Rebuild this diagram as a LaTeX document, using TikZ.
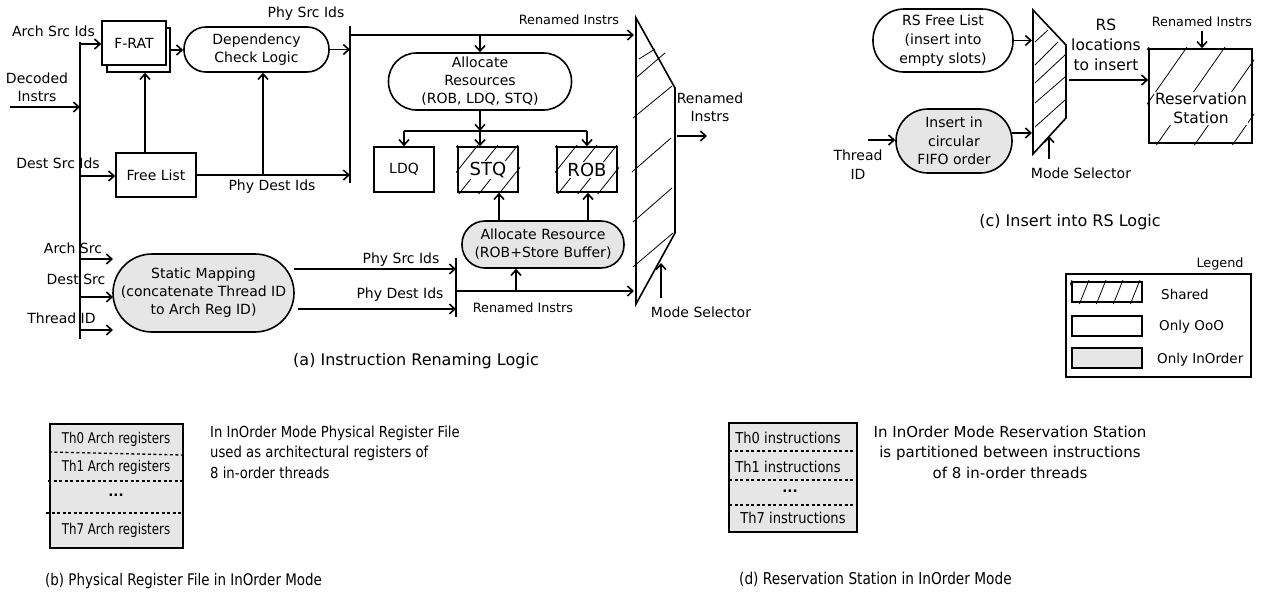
\documentclass[tikz,border=0pt]{standalone}
\usepackage{fontspec}
\setmainfont{DejaVu Sans}
\newfontfamily\cond[FakeStretch=0.87]{DejaVu Sans}
\newfontfamily\condb[FakeStretch=0.8]{DejaVu Sans}
\newfontfamily\condc[FakeStretch=0.84]{DejaVu Sans}
\usetikzlibrary{arrows.meta}
\definecolor{lg}{RGB}{230,230,230}
\newcommand\fsz[2]{\fontsize{#1}{#2}\selectfont}
\newcommand\hatchrect[6]{%
 \begin{scope}
 \clip (#1-2,#2-2) rectangle (#3+2,#4+2);
 \pgfmathsetmacro\hh{#4-#2+4}%
 \pgfmathsetmacro\ta{#1-\hh*#6}%
 \pgfmathsetmacro\tb{\ta+#5}%
 \foreach \t in {\ta,\tb,...,#3}{\draw[hl] (\t,#4+2) -- ++({\hh*#6},{-\hh});}
 \end{scope}}
\begin{document}
\begin{tikzpicture}[x=1pt,y=-1pt,
 every node/.style={font=\fsz{14}{18}, inner sep=0pt},
 box/.style={draw, line width=1.6pt, align=center},
 ingray/.style={fill=lg},
 arr/.style={line width=1.6pt, -{Straight Barb[length=5.5pt,width=10pt]}},
 ln/.style={line width=1.6pt},
 hl/.style={line width=0.8pt},
 dsh/.style={line width=1.3pt, dash pattern=on 3pt off 2.5pt},
 lbl/.style={align=center},
 small/.style={font=\fsz{12.8}{15}},
]
\useasboundingbox (0,0) rectangle (1264,592);

% ===================== (a) =====================
\coordinate (busT) at (80,42); \coordinate (busB) at (80,339);
\draw[ln] (busT) -- (busB);
\node[box, fill=white, minimum width=63pt, minimum height=44pt] (fratb) at (138.5,50) {};
\node[box, fill=white, minimum width=64pt, minimum height=44pt] (frat) at (134,43) {F-RAT};
\node[box, rounded corners=22pt, minimum width=145pt, minimum height=45pt] (dep) at (256.5,49.5) {Dependency\\Check Logic};
\node[box, minimum width=80pt, minimum height=44pt] (free) at (156,175) {Free List};

\node[lbl] (lArch) at (53.5,31) {Arch Src Ids};
\coordinate (a1) at (80,44);
\draw[arr] (a1) -- (a1 -| frat.west);
\node[lbl] (lDec) at (37,87) {Decoded\\Instrs};
\coordinate (d0) at (10,107);
\draw[arr] (d0) -- (d0 -| busT);
\node[lbl] (lDest) at (58,163) {Dest Src Ids};
\coordinate (ds) at (80,176);
\draw[arr] (ds) -- (ds -| free.west);
\coordinate (fu) at (145,153);
\draw[arr] (fu) -- (fu |- fratb.south);
\draw[arr] (fratb.east) -- (fratb.east -| dep.west);

\coordinate (bar1T) at (350,26); \coordinate (bar1B) at (350,183);
\draw[ln] (bar1T) -- (bar1B);
\draw[arr] (dep.east) -- (dep.east -| bar1T);
\draw[arr] (free.east) -- (free.east -| bar1T);
\coordinate (br1) at (263,175);
\draw[arr] (br1) -- (br1 |- dep.south);
\node (lPS) at (306,13.5) {Phy Src Ids};
\node (lPD) at (272,187) {Phy Dest Ids};

% mux (a)
\coordinate (ma1) at (636,18); \coordinate (ma2) at (675,88);
\coordinate (ma3) at (675,233); \coordinate (ma4) at (636,304);
\coordinate (muxaIn) at (634,160);
\draw[ln] (ma1) -- (ma2) -- (ma3) -- (ma4) -- cycle;
\draw[hl] (639,59) -- (655,49);
\draw[hl] (637,77) -- (665,53);
\draw[hl] (633,118) -- (672,86);
\draw[hl] (632,172) -- (671,138);
\draw[hl] (633,222) -- (672,188);
\draw[hl] (633,267) -- (673,233);

\coordinate (rt) at (350,35);
\draw[arr] (rt) -- (rt -| muxaIn);
\node[small] (lRI1) at (569,20) {Renamed Instrs};

\node[box, rounded corners=28pt, minimum width=183pt, minimum height=57pt] (alloc) at (480,81.5) {Allocate\\Resources\\(ROB, LDQ, STQ)};
\coordinate (ad) at (480,35);
\draw[arr] (ad) -- (ad |- alloc.north);

\node[box, minimum width=60pt, minimum height=45pt] (ldq) at (404,169.5) {LDQ};
\node[box, fill=white, minimum width=60pt, minimum height=45pt] (stq) at (488,169.5) {};
\hatchrect{458}{147}{518}{192}{20}{0.8}
\node[fill=white, inner sep=1pt, font=\fsz{18}{20}] (stqt) at (488,170) {STQ};
\node[box, fill=white, minimum width=60pt, minimum height=45pt] (rob) at (587,169.5) {};
\hatchrect{557}{147}{617}{192}{20}{0.8}
\node[fill=white, inner sep=1pt, font=\fsz{18}{20}] (robt) at (587,170) {ROB};

\coordinate (bj) at (480,131);
\draw[arr] (alloc.south) -- (bj);
\draw[ln] (bj -| ldq.north) -- (bj -| rob.north);
\draw[arr] (bj -| ldq.north) -- (ldq.north);
\draw[arr] (bj) -- (bj |- stq.north);
\draw[arr] (bj -| rob.north) -- (rob.north);

\coordinate (mo) at (677,136); \coordinate (moE) at (707,136);
\draw[arr] (mo) -- (moE);
\node[lbl] (lRI2) at (710,107) {Renamed\\Instrs};
\coordinate (msB) at (661,298); \coordinate (msT) at (661,263);
\draw[arr] (msB) -- (msT);
\node (lMS) at (701,312) {Mode Selector};

% lower part of (a)
\node[box, ingray, rounded corners=39pt, minimum width=181pt, minimum height=78pt] (static) at (203.5,293) {Static Mapping\\(concatenate Thread ID\\to Arch Reg ID)};
\node (lAS) at (73,248) {Arch Src};
\node (lDS) at (76,279) {Dest Src};
\node (lTI) at (61.5,318) {Thread ID};
\coordinate (s1) at (80,259); \coordinate (s1e) at (113,259);
\coordinate (s2) at (80,297); \coordinate (s2e) at (113,297);
\coordinate (s3) at (80,330); \coordinate (s3e) at (113,330);
\draw[arr] (s1) -- (s1e);
\draw[arr] (s2) -- (s2e);
\draw[arr] (s3) -- (s3e);

\coordinate (bar2T) at (456,258); \coordinate (bar2B) at (456,317);
\draw[ln] (bar2T) -- (bar2B);
\coordinate (ps0) at (294,269); \coordinate (pd0) at (298,309);
\draw[arr] (ps0) -- (ps0 -| bar2T);
\draw[arr] (pd0) -- (pd0 -| bar2T);
\node (lPS2) at (401,260) {Phy Src Ids};
\node (lPD2) at (400,295) {Phy Dest Ids};

\node[box, ingray, rounded corners=23pt, minimum width=162pt, minimum height=47pt] (allocr) at (543,244.5) {Allocate Resource\\(ROB+Store Buffer)};
\coordinate (ri0) at (456,291);
\draw[arr] (ri0) -- (ri0 -| muxaIn);
\coordinate (rb) at (516,291);
\draw[arr] (rb) -- (rb |- allocr.south);
\coordinate (u1) at (499,221); \coordinate (u2) at (588,221);
\draw[arr] (u1) -- (u1 |- stq.south);
\draw[arr] (u2) -- (u2 |- rob.south);
\node[small] (lRI3) at (523,308) {Renamed Instrs};
\node[font=\fsz{16}{18}] (capA) at (416,361) {(a) Instruction Renaming Logic};

% ===================== (c) =====================
\node[box, rounded corners=31pt, minimum width=140pt, minimum height=63pt, font=\fsz{14}{19}] (rsfl) at (943,40.5) {RS Free List\\(insert into\\empty slots)};
\node[box, ingray, rounded corners=32pt, minimum width=116pt, minimum height=64pt, font=\fsz{14}{18.5}] (ins) at (954,141) {Insert in\\circular\\FIFO order};
\coordinate (mc1) at (1033,10); \coordinate (mc2) at (1066,45);
\coordinate (mc3) at (1066,118); \coordinate (mc4) at (1033,154);
\coordinate (mcIn) at (1032,80);
\draw[ln] (mc1) -- (mc2) -- (mc3) -- (mc4) -- cycle;
\draw[hl] (1035,42) -- (1048,30);
\draw[hl] (1035,65) -- (1058,42);
\draw[hl] (1035,83) -- (1065,55);
\draw[hl] (1035,103) -- (1065,77);
\draw[hl] (1035,127) -- (1065,100);
\draw[arr] (rsfl.east) -- (rsfl.east -| mcIn);
\coordinate (in1) at (1012,133);
\draw[arr] (in1) -- (in1 -| mcIn);
\coordinate (th0) at (868,140);
\draw[arr] (th0) -- (th0 -| ins.west);
\node[lbl, font=\fsz{14}{19}] (lTh) at (858,164.5) {Thread\\ID};
\coordinate (mcsB) at (1049,159); \coordinate (mcsT) at (1049,136);
\draw[arr] (mcsB) -- (mcsT);
\node (lMS2) at (1081,173) {Mode Selector};

\node[box, fill=white, minimum width=103pt, minimum height=94pt] (rs) at (1200.5,96) {};
\hatchrect{1149}{49}{1252}{143}{38}{0.7}
\node[fill=white, inner sep=1pt, align=center, font=\fsz{15.5}{19}] (rst) at (1201,108) {Reservation\\Station};
\coordinate (mo2) at (1069,80);
\draw[arr] (mo2) -- (mo2 -| rs.west);
\node[lbl, font=\fsz{15.5}{20}] (lRS) at (1106,45) {RS\\locations\\to insert};
\node[small] (lRI4) at (1202,22) {Renamed Instrs};
\coordinate (ri4) at (1202,31);
\draw[arr] (ri4) -- (ri4 |- rs.north);
\node[font=\fsz{16}{18}] (capC) at (1070,222) {(c) Insert into RS Logic};

% legend
\node[small] (lLeg) at (1220,264) {Legend};
\node[draw, line width=1.1pt, minimum width=185pt, minimum height=103pt] (leg) at (1158.5,325.5) {};
\node[draw, line width=1.1pt, fill=white, minimum width=70pt, minimum height=20pt] (legS) at (1107,292) {};
\hatchrect{1072}{282}{1142}{302}{17}{0.4}
\node[draw, line width=1.1pt, minimum width=70pt, minimum height=20pt] (legO) at (1107,326) {};
\node[draw, line width=1.1pt, fill=lg, minimum width=70pt, minimum height=20pt] (legI) at (1107,358) {};
\node[anchor=west, font=\fsz{13.5}{16}] (tS) at (1161,294) {Shared};
\node[anchor=west, font=\fsz{13.5}{16}] (tO) at (1159,327) {Only OoO};
\node[anchor=west, font=\fsz{13.5}{16}] (tI) at (1157,360) {Only InOrder};

% ===================== (b) =====================
\node[box, ingray, minimum width=133pt, minimum height=124pt] (prf) at (116.5,486) {};
\draw[dsh] (49,452) -- (183,455);
\draw[dsh] (48,481) -- (183,481);
\draw[dsh] (46,513) -- (183,513);
\node[font=\condb\fsz{14.8}{17}] (p0) at (116,439) {Th0 Arch registers};
\node[font=\condb\fsz{14.8}{17}] (p1) at (116,467) {Th1 Arch registers};
\node[font=\bfseries\fsz{13.5}{16}] (p2) at (116,495) {...};
\node[font=\condb\fsz{14.8}{17}] (p7) at (116,530) {Th7 Arch registers};
\node[anchor=west, align=left, font=\cond\fsz{15.2}{20.5}] (pt) at (210,452) {In InOrder Mode Physical Register File\\used as architectural registers of\\8 in-order threads};
\node[anchor=west, font=\condc\fsz{16}{18}] (capB) at (45,581) {(b) Physical Register File in InOrder Mode};

% ===================== (d) =====================
\node[box, ingray, minimum width=128pt, minimum height=109pt] (rsb) at (793,477.5) {};
\draw[dsh] (729,451) -- (857,451);
\draw[dsh] (729,480) -- (857,480);
\draw[dsh] (729,505) -- (857,505);
\node[font=\cond\fsz{15}{17}] (r0) at (788,438) {Th0 instructions};
\node[font=\cond\fsz{15}{17}] (r1) at (788,467) {Th1 instructions};
\node[font=\bfseries\fsz{13.5}{16}] (r2) at (790,491) {...};
\node[font=\cond\fsz{15}{17}] (r7) at (793,518) {Th7 instructions};
\node[align=center, font=\fsz{15}{20.5}] (rt2) at (1010,452) {In InOrder Mode Reservation Station\\is partitioned between instructions\\of 8 in-order threads};
\node[anchor=west, font=\condc\fsz{16.3}{18}] (capD) at (739,579) {(d) Reservation Station in InOrder Mode};
\end{tikzpicture}
\end{document}
